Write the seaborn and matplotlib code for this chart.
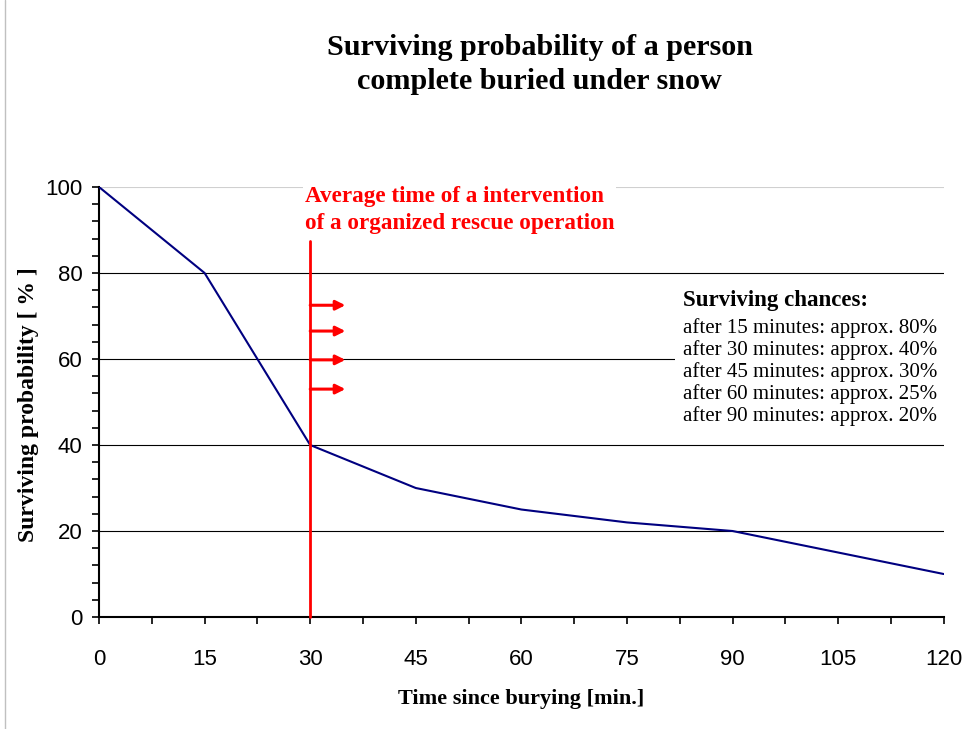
"""Surviving probability of a buried avalanche victim."""

import matplotlib
matplotlib.use("Agg")
import matplotlib.pyplot as plt
import pandas as pd
import seaborn as sns

minutes = [0, 15, 30, 45, 60, 75, 90, 120]
survival = [100, 80, 40, 30, 25, 22, 20, 10]
x_ticks = [0, 15, 30, 45, 60, 75, 90, 105, 120]
y_ticks = [0, 20, 40, 60, 80, 100]
rescue_time = 30
arrow_levels = [72.5, 66.5, 59.8, 53.0]
chance_lines = [
    "after 15 minutes: approx. 80%",
    "after 30 minutes: approx. 40%",
    "after 45 minutes: approx. 30%",
    "after 60 minutes: approx. 25%",
    "after 90 minutes: approx. 20%",
]

sns.set_style("white")
plt.rcParams["font.family"] = ["Liberation Sans Narrow", "Liberation Sans", "DejaVu Sans"]
plt.rcParams["text.color"] = "black"
plt.rcParams["axes.labelcolor"] = "black"
plt.rcParams["xtick.color"] = "black"
plt.rcParams["ytick.color"] = "black"
serif = ["Liberation Serif", "DejaVu Serif"]

df = pd.DataFrame({"minutes": minutes, "survival": survival})

fig = plt.figure(figsize=(9.64, 7.29), dpi=100)
ax = fig.add_axes([0.1027, 0.1536, 0.8763, 0.5899])

for y in [20, 40, 60, 80]:
    ax.axhline(y, color="black", lw=0.8, zorder=1)
ax.axhline(100, color="#d0d0d0", lw=0.8, zorder=1)

sns.lineplot(data=df, x="minutes", y="survival", color="#000080", lw=1.5, ax=ax, zorder=3)

ax.set_xlim(0, 120)
ax.set_ylim(0, 100)
ax.set_xticks(x_ticks)
ax.set_yticks(y_ticks)
ax.set_xticks([v + 7.5 for v in x_ticks[:-1]], minor=True)
ax.set_yticks([v for v in range(0, 101, 4)], minor=True)
ax.tick_params(axis="both", which="both", direction="out", length=5, width=1.2, color="black")
ax.tick_params(axis="x", which="both", bottom=True, pad=18)
ax.tick_params(axis="y", which="both", left=True, pad=7)
ax.tick_params(labelsize=16)
for side in ["top", "right"]:
    ax.spines[side].set_visible(False)
for side in ["left", "bottom"]:
    ax.spines[side].set_color("black")
    ax.spines[side].set_linewidth(1.5)

ax.set_xlabel("Time since burying [min.]", family=serif, fontweight="bold", fontsize=16, labelpad=14)
ax.set_ylabel("Surviving probability [ % ]", family=serif, fontweight="bold", fontsize=17)
ax.yaxis.set_label_coords(-0.071, 0.495)

# rescue time marker
ax.plot([rescue_time, rescue_time], [0, 87.5], color="red", lw=2, zorder=4, clip_on=False)
for y in arrow_levels:
    ax.annotate("", xy=(35, y), xytext=(rescue_time, y),
                arrowprops=dict(arrowstyle="-|>", color="red", lw=2.2, mutation_scale=14,
                                shrinkA=0, shrinkB=0), zorder=4)
ax.text(29.2, 94.6, "Average time of a intervention\nof a organized rescue operation",
        family=serif, fontweight="bold", fontsize=16.7, color="red", va="center", ha="left",
        linespacing=1.38, bbox=dict(facecolor="white", edgecolor="none", pad=1), zorder=5)

ax.text(83.0, 73.7, "Surviving chances:", family=serif, fontweight="bold", fontsize=16.5,
        va="center", ha="left", zorder=6)
ax.text(83.0, 57.0, "\n".join(chance_lines), family=serif, fontsize=15, va="center", ha="left",
        linespacing=1.15, bbox=dict(facecolor="white", edgecolor="none", pad=6), zorder=5)

fig.text(0.56, 0.9115, "Surviving probability of a person\ncomplete buried under snow",
         family=serif, fontweight="bold", fontsize=21.7, ha="center", va="center", linespacing=1.35)

fig.add_artist(plt.Line2D([0.005, 0.005], [0.0, 1.0], color="#c0c0c0", lw=1))

fig.savefig("out.png", dpi=100)
